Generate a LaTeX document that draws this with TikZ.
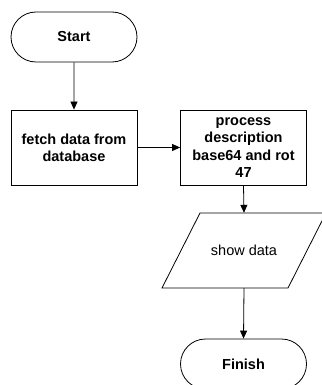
\documentclass[tikz,border=0pt]{standalone}
\usepackage{fontspec}
\setmainfont{Liberation Sans}
\usetikzlibrary{shapes.misc,arrows.meta}
\begin{document}
\begin{tikzpicture}[x=1pt,y=-1pt,
  every node/.style={font=\fontsize{14.5}{17.3}\selectfont\bfseries, align=center, inner sep=0pt},
  term/.style={draw, line width=0.8pt, rounded rectangle, minimum width=126pt, minimum height=50pt},
  proc/.style={draw, line width=0.8pt, rectangle, minimum width=126pt, minimum height=75pt},
  conn/.style={line width=0.8pt, -{Triangle[length=8pt,width=7pt]}}]
\useasboundingbox (0,0) rectangle (321,385);
\node[term] (start) at (74,37) {Start};
\node[proc] (fetch) at (74,147.5) {fetch data from\\database};
\node[proc] (process) at (243.5,147.5) {process\\description\\base64 and rot\\47};
\node[minimum width=126pt, minimum height=75pt, font=\fontsize{14.5}{17.3}\selectfont] (show) at (244,250.5) {show data};
\draw[line width=0.8pt] (200,213) -- (326,213) -- (288,288) -- (162,288) -- cycle;
\node[term] (finish) at (243.5,364) {Finish};
\draw[conn] (start) -- (fetch);
\draw[conn] (fetch) -- (process);
\draw[conn] (process.south) -- (show.north);
\draw[conn] (show.south) -- (finish.north);
\end{tikzpicture}
\end{document}
